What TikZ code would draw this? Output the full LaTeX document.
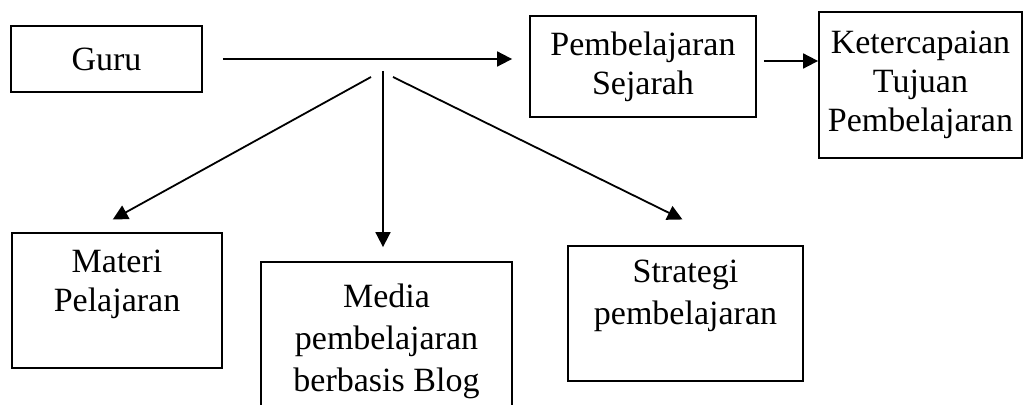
\documentclass[tikz,border=0pt]{standalone}
\usepackage{fontspec}
\setmainfont{Liberation Serif}
\usetikzlibrary{arrows.meta, positioning, calc}

\begin{document}
\begin{tikzpicture}[
    x=0.5pt, y=-0.5pt,
    box/.style={draw, line width=0.9pt, align=center, inner sep=0pt, font=\fontsize{17}{19.5}\selectfont},
    widebox/.style={box, font=\fontsize{17}{21}\selectfont},
    arrow/.style={-{Triangle[length=7.5pt, width=7.5pt]}, line width=0.9pt}
]
    \useasboundingbox (0,0) rectangle (1024,405);

    % Top row
    \node[box, minimum width=95.5pt, minimum height=33pt] (guru) at (106.5,59) {Guru};
    \node[box, minimum width=113pt, minimum height=50.5pt] (sejarah) at (643,66.5) {Pembelajaran\\Sejarah};
    \node[box, minimum width=101.5pt, minimum height=73pt] (tujuan) at (920.5,85) {Ketercapaian\\Tujuan\\Pembelajaran};

    % Bottom row
    \node[box, minimum width=105pt, minimum height=67.5pt] (materi) at (117,300.5) {Materi\\Pelajaran\\\mbox{}};
    \node[widebox, minimum width=125.5pt, minimum height=79pt] (media) at (386.5,341) {Media\\pembelajaran\\berbasis Blog};
    \node[widebox, minimum width=117.5pt, minimum height=67.5pt] (strategi) at (685.5,313.5) {Strategi\\pembelajaran\\\mbox{}};

    % Branch points
    \coordinate (branch) at (383,71);
    \coordinate (branch_l) at (371,77);
    \coordinate (branch_r) at (393,77);

    % Arrows
    \draw[arrow, shorten <=10pt, shorten >=8.5pt] (guru.east) -- (guru.east -| sejarah.west);
    \draw[arrow, shorten <=3.5pt] ($(sejarah.east)+(0,-5.5)$) -- ($(tujuan.west)+(0,-24)$);
    \draw[arrow, shorten >=13pt] (branch_l) -- ($(materi.north)+(-27,0)$);
    \draw[arrow, shorten >=7pt] (branch) -- (branch |- media.north);
    \draw[arrow, shorten >=29pt] (branch_r) -- ($(strategi.north)+(49,0)$);

\end{tikzpicture}
\end{document}
